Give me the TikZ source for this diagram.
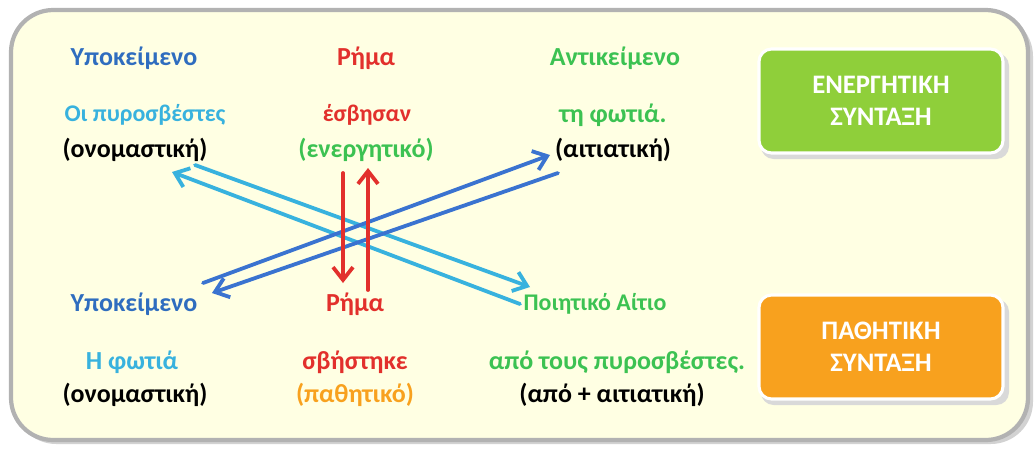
\documentclass[tikz,border=0pt]{standalone}
\usepackage{fontspec}
\setmainfont{Carlito}
\usepackage{xcolor}
\usetikzlibrary{arrows.meta,calc,positioning}
\definecolor{panelbg}{HTML}{FFFFE3}
\definecolor{subjblue}{HTML}{2F6DBF}
\definecolor{arrowblue}{HTML}{3A73D0}
\definecolor{nouncyan}{HTML}{38B2DE}
\definecolor{verbred}{HTML}{E2302C}
\definecolor{objgreen}{HTML}{3CC252}
\definecolor{activegreen}{HTML}{8FCF3A}
\definecolor{passiveorange}{HTML}{F8A11E}

\begin{document}
\begin{tikzpicture}[x=0.025cm,y=-0.025cm,line cap=round,line join=round,
  word/.style={font=\fontsize{18.5}{22}\selectfont\bfseries,inner sep=1pt},
  smallword/.style={word,font=\fontsize{17}{20}\selectfont\bfseries},
  voicebox/.style={rounded corners=9pt,draw=white,line width=2.2pt,
    minimum width=6.1cm,minimum height=2.6cm,align=center,text=white,
    font=\fontsize{19}{23}\selectfont\bfseries},
  link/.style={line width=2.7pt,-{Straight Barb[length=3.2mm,width=5mm,line width=2.7pt]}}]
  \useasboundingbox (0,0) rectangle (1035,450);
  % Panel.
  \fill[gray!35,rounded corners=30] (14,14) rectangle (1033,444);
  \draw[gray!60,line width=3pt,fill=panelbg,rounded corners=30] (11,10) rectangle (1028,440);

  % Active sentence.
  \node[word,text=subjblue] (subjA) at (134,58) {Υποκείμενο};
  \node[word,text=verbred] (verbA) at (366,58) {Ρήμα};
  \node[word,text=objgreen] (objA) at (615,58) {Αντικείμενο};
  \node[smallword,text=nouncyan] (firemen) at (145,115) {Οι πυροσβέστες};
  \node[word] (nomA) at (135,150) {(ονομαστική)};
  \node[smallword,text=verbred] (put) at (367,115) {έσβησαν};
  \node[word,text=objgreen] (actv) at (366,150) {(ενεργητικό)};
  \node[word,text=objgreen] (fireA) at (613,115) {τη φωτιά.};
  \node[word] (acc) at (613,150) {(αιτιατική)};

  % Passive sentence.
  \node[word,text=subjblue] (subjP) at (134,304) {Υποκείμενο};
  \node[word,text=verbred] (verbP) at (355,304) {Ρήμα};
  \node[smallword,text=objgreen] (agent) at (595,304) {Ποιητικό Αίτιο};
  \node[word,text=nouncyan] (fireP) at (132,362) {Η φωτιά};
  \node[word] (nomP) at (135,395) {(ονομαστική)};
  \node[word,text=verbred] (putP) at (355,362) {σβήστηκε};
  \node[word,text=passiveorange] (pasv) at (355,395) {(παθητικό)};
  \node[word,text=objgreen] (byfire) at (617,362) {από τους πυροσβέστες.};
  \node[word] (byacc) at (612,395) {(από + αιτιατική)};

  % Voice labels.
  \fill[gray!30,rounded corners=9pt] (761,53) rectangle (1009,159);
  \node[voicebox,fill=activegreen] (active) at (881,101) {ΕΝΕΡΓΗΤΙΚΗ\\ΣΥΝΤΑΞΗ};
  \fill[gray!30,rounded corners=9pt] (761,299) rectangle (1009,405);
  \node[voicebox,fill=passiveorange] (passive) at (881,347) {ΠΑΘΗΤΙΚΗ\\ΣΥΝΤΑΞΗ};

  % Crossing arrows.
  \coordinate (nomEnd) at (195,165);
  \coordinate (nomTip) at (172,172);
  \coordinate (accTip) at (550,155);
  \coordinate (accEnd) at (558,173);
  \coordinate (subjEnd) at (203,283);
  \coordinate (subjTip) at (212,293);
  \coordinate (agentTip) at (530,287);
  \coordinate (agentEnd) at (520,304);
  \coordinate (downEnd) at (343,173);
  \coordinate (downTip) at (343,283);
  \coordinate (upEnd) at (368,290);
  \coordinate (upTip) at (368,168);
  \draw[link,nouncyan] (nomEnd) -- (agentTip);
  \draw[link,nouncyan] (agentEnd) -- (nomTip);
  \draw[link,arrowblue] (subjEnd) -- (accTip);
  \draw[link,arrowblue] (accEnd) -- (subjTip);
  \draw[link,verbred] (downEnd) -- (downTip);
  \draw[link,verbred] (upEnd) -- (upTip);
\end{tikzpicture}
\end{document}
